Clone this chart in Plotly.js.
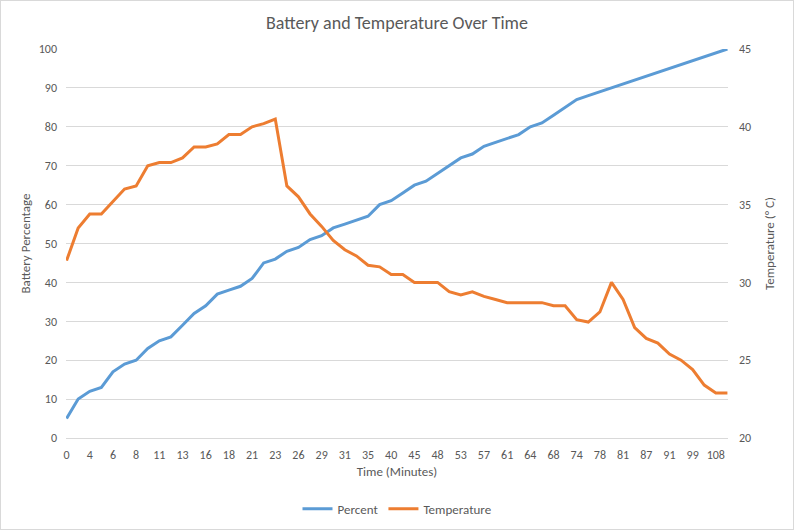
<!DOCTYPE html>
<html>
<head>
<meta charset="utf-8">
<script src="https://cdn.plot.ly/plotly-3.0.1.min.js"></script>
<style>
  body { margin: 0; background: #fff; }
  #chart { position: absolute; left: 0; top: 0; width: 794px; height: 530px; }
  #frame { position: absolute; left: 0; top: 0; width: 794px; height: 530px;
           box-sizing: border-box; border: 1px solid #d9d9d9; pointer-events: none; }
</style>
</head>
<body>
<div id="chart"></div>
<div id="frame"></div>
<script>
// time in minutes (category axis, every other label shown)
var minutes = [0, 2, 4, 5, 6, 7, 8, 10, 11, 12, 13, 14, 16, 17, 18, 19, 21, 22, 23, 24,
               26, 27, 29, 30, 31, 33, 35, 38, 40, 42, 45, 47, 48, 50, 53, 55, 57, 59, 61, 62,
               64, 66, 68, 71, 74, 76, 78, 80, 81, 84, 87, 89, 91, 95, 99, 104, 108, 110];

var percent = [5, 10, 12, 13, 17, 19, 20, 23, 25, 26, 29, 32, 34, 37, 38, 39, 41, 45, 46, 48,
               49, 51, 52, 54, 55, 56, 57, 60, 61, 63, 65, 66, 68, 70, 72, 73, 75, 76, 77, 78,
               80, 81, 83, 85, 87, 88, 89, 90, 91, 92, 93, 94, 95, 96, 97, 98, 99, 100];

var temperature = [31.4, 33.5, 34.4, 34.4, 35.2, 36.0, 36.2, 37.5, 37.7, 37.7,
                   38.0, 38.7, 38.7, 38.9, 39.5, 39.5, 40.0, 40.2, 40.5, 36.2,
                   35.5, 34.4, 33.6, 32.7, 32.1, 31.7, 31.1, 31.0, 30.5, 30.5,
                   30.0, 30.0, 30.0, 29.4, 29.2, 29.4, 29.1, 28.9, 28.7, 28.7,
                   28.7, 28.7, 28.5, 28.5, 27.6, 27.45, 28.1, 30.0, 28.9, 27.1,
                   26.4, 26.1, 25.4, 25.0, 24.4, 23.4, 22.9, 22.9];

var cats = minutes.map(String);
var shownTicks = cats.filter((c, i) => i % 2 == 0);

var fontFam = 'Carlito, Calibri, Lato, sans-serif';
var grey = '#595959';

var trace1 = {
    x: cats,
    y: percent,
    name: 'Percent',
    type: 'scatter',
    mode: 'lines',
    line: {color: '#5b9bd5', width: 3}
};

var trace2 = {
    x: cats,
    y: temperature,
    name: 'Temperature',
    type: 'scatter',
    mode: 'lines',
    yaxis: 'y2',
    line: {color: '#ed7d31', width: 3}
};

var layout = {
    width: 794,
    height: 530,
    margin: {l: 66, r: 66, t: 49, b: 92},
    paper_bgcolor: '#fff',
    plot_bgcolor: '#fff',
    font: {family: fontFam, color: grey, size: 12},
    title: {
        text: 'Battery and Temperature Over Time',
        font: {family: fontFam, size: 18, color: grey},
        x: 0.5,
        y: 0.958,
        yanchor: 'middle'
    },
    xaxis: {
        type: 'category',
        range: [-0.05, 57.05],
        automargin: false,
        tickmode: 'array',
        tickvals: shownTicks,
        ticktext: shownTicks,
        tickangle: 0,
        showgrid: false,
        showline: true,
        linecolor: '#d9d9d9',
        ticks: '',
        ticklabelstandoff: 6,
        tickfont: {size: 12, color: grey},
        title: {text: 'Time (Minutes)', font: {size: 13, color: grey}, standoff: 5}
    },
    yaxis: {
        range: [0, 100],
        dtick: 10,
        automargin: false,
        showgrid: true,
        gridcolor: '#d9d9d9',
        zeroline: false,
        ticks: '',
        ticklabelstandoff: 8,
        tickfont: {size: 12, color: grey},
        title: {text: 'Battery Percentage', font: {size: 13, color: grey}, standoff: 5}
    },
    yaxis2: {
        overlaying: 'y',
        side: 'right',
        range: [20, 45],
        dtick: 5,
        automargin: false,
        showgrid: false,
        zeroline: false,
        ticks: '',
        ticklabelstandoff: 10,
        tickfont: {size: 12, color: grey},
        title: {text: 'Temperature (° C)', font: {size: 13, color: grey}, standoff: 14}
    },
    showlegend: true,
    legend: {
        orientation: 'h',
        x: 0.5,
        xanchor: 'center',
        xref: 'container',
        y: 0.04,
        yref: 'container',
        yanchor: 'middle',
        itemwidth: 30,
        font: {size: 13, color: grey}
    }
};

Plotly.newPlot('chart', [trace1, trace2], layout, {displayModeBar: false});
</script>
</body>
</html>
